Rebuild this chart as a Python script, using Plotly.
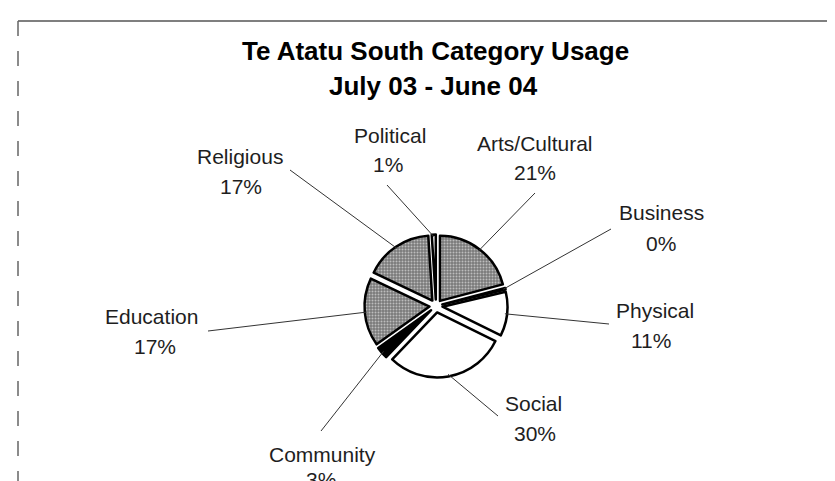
import math
import plotly.graph_objects as go

# ---- data ----
categories = ["Arts/Cultural", "Business", "Physical", "Social",
              "Community", "Education", "Religious", "Political"]
values = [21, 0.4, 11, 30, 3, 17, 17, 1]

# ---- styles / layout ----
slice_colors = ["#7a7a7a", "#ffffff", "#ffffff", "#ffffff",
                "#000000", "#7a7a7a", "#7a7a7a", "#ffffff"]
slice_patterns = [".", "", "", "", "", ".", ".", ""]
# label centres (pixels from top-left): name line, percent line
name_px = [(527, 135), (653, 205), (647, 302), (525, 395),
           (314, 446), (143, 308), (232, 149), (382, 127)]
pct_px = [(527, 165), (653, 235), (643, 332), (527, 425),
          (313, 471), (147, 338), (233, 178), (380, 157)]
leader_start_px = [(527, 185), (603, 221), (601, 316), (490, 408),
                   (313, 423), (200, 323), (282, 162), (379, 177)]

W, H = 835, 481
CX, CY = 428, 298          # pie centre in pixels
R = 65                     # pie radius in pixels
PULL = 0.1
half = R * (1 + PULL)

fig = go.Figure(go.Pie(
    labels=categories,
    values=values,
    sort=False,
    direction="clockwise",
    rotation=0,
    pull=[PULL] * len(values),
    marker=dict(colors=slice_colors,
                line=dict(color="#000000", width=2.5),
                pattern=dict(shape=slice_patterns, fgcolor="#ffffff",
                             size=3, solidity=0.35, fillmode="overlay")),
    textinfo="none",
    hoverinfo="label+percent",
    showlegend=False,
    domain=dict(x=[(CX - half) / W, (CX + half) / W],
                y=[1 - (CY + half) / H, 1 - (CY - half) / H]),
))

total = sum(values)
annotations = []
shapes = []
cum = 0.0
lab_font = dict(family="Liberation Sans, Arial, sans-serif", size=21, color="#1e1e1e")
for i, (cat, v) in enumerate(zip(categories, values)):
    mid = (cum + v / 2) / total * 2 * math.pi
    cum += v
    rr = R * (1 + PULL) * 0.97
    ex = CX + rr * math.sin(mid)
    ey = CY - rr * math.cos(mid)
    sx, sy = leader_start_px[i]
    shapes.append(dict(type="line", xref="paper", yref="paper",
                       x0=sx / W, y0=1 - sy / H, x1=ex / W, y1=1 - ey / H,
                       line=dict(color="#333333", width=1)))
    nx, ny = name_px[i]
    px_, py_ = pct_px[i]
    annotations.append(dict(text=cat, x=nx / W, y=1 - ny / H, xref="paper", yref="paper",
                            showarrow=False, font=lab_font, xanchor="center", yanchor="middle"))
    annotations.append(dict(text=f"{round(v / total * 100)}%", x=px_ / W, y=1 - py_ / H,
                            xref="paper", yref="paper", showarrow=False, font=lab_font,
                            xanchor="center", yanchor="middle"))

title_font = dict(family="Liberation Sans, Arial, sans-serif", size=26, color="#000000")
annotations.append(dict(text="<b>Te Atatu South Category Usage</b>", x=427 / W, y=1 - 43 / H,
                        xref="paper", yref="paper", showarrow=False, font=title_font,
                        xanchor="center", yanchor="middle"))
annotations.append(dict(text="<b>July 03 - June 04</b>", x=425 / W, y=1 - 78 / H,
                        xref="paper", yref="paper", showarrow=False, font=title_font,
                        xanchor="center", yanchor="middle"))

# scanned frame edges
shapes.append(dict(type="line", xref="paper", yref="paper", x0=10 / W, y0=1 - 13 / H,
                   x1=1, y1=1 - 13 / H, line=dict(color="#555555", width=1.5)))
shapes.append(dict(type="line", xref="paper", yref="paper", x0=10 / W, y0=1 - 13 / H,
                   x1=10 / W, y1=0, line=dict(color="#666666", width=1.5, dash="longdash")))

fig.update_layout(
    width=W, height=H,
    margin=dict(l=0, r=0, t=0, b=0),
    paper_bgcolor="#ffffff",
    plot_bgcolor="#ffffff",
    annotations=annotations,
    shapes=shapes,
)

fig.write_html("out.html")
